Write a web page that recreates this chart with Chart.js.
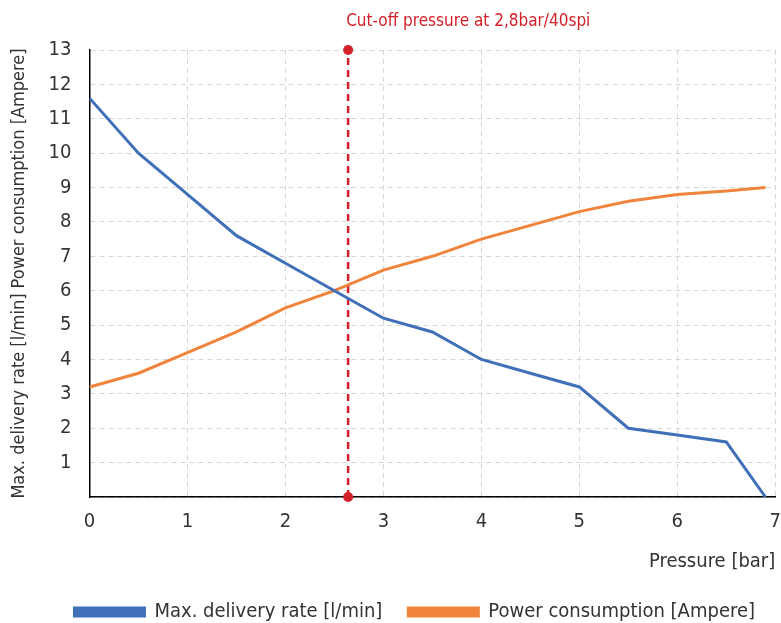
<!DOCTYPE html>
<html>
<head>
<meta charset="utf-8">
<script src="https://cdn.jsdelivr.net/npm/chart.js@4"></script>
<style>
  body { margin: 0; background: #fff; }
  #wrap { width: 781px; height: 623px; }
</style>
</head>
<body>
<div id="wrap"><canvas id="graph-container" width="781" height="623"></canvas></div>
<script>
// pressure steps in bar
const pressure = [0, 0.5, 1, 1.5, 2, 2.5, 3, 3.5, 4, 4.5, 5, 5.5, 6, 6.5, 6.9];
const deliveryRate = [11.6, 10.0, 8.8, 7.6, 6.8, 6.0, 5.2, 4.8, 4.0, 3.6, 3.2, 2.0, 1.8, 1.6, 0];
const powerUse = [3.2, 3.6, 4.2, 4.8, 5.5, 6.0, 6.6, 7.0, 7.5, 7.9, 8.3, 8.6, 8.8, 8.9, 9.0];
const cutoffX = [2.64, 2.64];
const cutoffY = [0, 13];
const cutoffText = "Cut-off pressure at 2,8bar/40spi";

const font = "'Liberation Sans Narrow', 'DejaVu Sans Condensed', sans-serif";
const textColor = "#333";

const toPoints = (xs, ys) => xs.map((x, i) => ({ x, y: ys[i] }));

// writes the cut-off note above the red line
const cutoffLabel = {
  id: "cutoffLabel",
  afterDraw(chart) {
    const ctx = chart.ctx;
    const x = chart.scales.x.getPixelForValue(cutoffX[0]);
    ctx.save();
    ctx.fillStyle = "#d4202a";
    ctx.font = "17px " + font;
    ctx.textBaseline = "middle";
    ctx.fillText(cutoffText, x - 2, 22);
    ctx.restore();
  },
};

const gridDash = { color: "#000", width: 1.5, dash: [5, 4] };

const ctx = document.getElementById("graph-container").getContext("2d");
const chart = new Chart(ctx, {
  type: "line",
  data: {
    datasets: [
      {
        label: "Max. delivery rate [l/min]",
        data: toPoints(pressure, deliveryRate),
        borderColor: "#3f70b8",
        backgroundColor: "#3f70b8",
        borderWidth: 3,
        pointRadius: 0,
      },
      {
        label: "Power consumption [Ampere]",
        data: toPoints(pressure, powerUse),
        borderColor: "#f0843c",
        backgroundColor: "#f0843c",
        borderWidth: 3,
        pointRadius: 0,
      },
      {
        label: "cutoff",
        data: toPoints(cutoffX, cutoffY),
        borderColor: "#d4202a",
        backgroundColor: "#d4202a",
        borderWidth: 2.5,
        borderDash: [7, 5],
        pointRadius: 5,
        pointBackgroundColor: "#d4202a",
        pointBorderWidth: 0,
        clip: false,
      },
    ],
  },
  options: {
    responsive: false,
    animation: false,
    layout: { autoPadding: false, padding: { top: 50, right: 0, left: 9, bottom: -9 } },
    scales: {
      x: {
        type: "linear",
        min: 0,
        max: 7,
        // invisible tick marks push the labels down without widening the side padding
        grid: { color: "#d6d6d6", drawTicks: true, tickLength: 15, tickColor: "transparent" },
        border: gridDash,
        ticks: { stepSize: 1, color: textColor, font: { family: font, size: 20, lineHeight: 1 }, padding: 0 },
        title: {
          display: true,
          text: "Pressure [bar]",
          align: "end",
          color: textColor,
          font: { family: font, size: 20, lineHeight: 1 },
          padding: { top: 20, bottom: 4 },
        },
      },
      y: {
        min: 0,
        max: 13,
        grid: { color: "#d6d6d6", drawTicks: false },
        border: gridDash,
        ticks: {
          stepSize: 1,
          color: textColor,
          font: { family: font, size: 20 },
          padding: 18,
          callback: (v) => (v === 0 ? "" : v),
        },
        title: {
          display: true,
          text: "Max. delivery rate [l/min] Power consumption [Ampere]",
          color: textColor,
          font: { family: font, size: 18 },
          padding: 0,
        },
      },
    },
    plugins: {
      legend: {
        position: "bottom",
        align: "end",
        labels: {
          filter: (item) => item.text !== "cutoff",
          boxWidth: 70,
          boxHeight: 8,
          color: textColor,
          font: { family: font, size: 20 },
          padding: 26,
        },
      },
      tooltip: { enabled: false },
    },
  },
  plugins: [cutoffLabel],
});
</script>
</body>
</html>
